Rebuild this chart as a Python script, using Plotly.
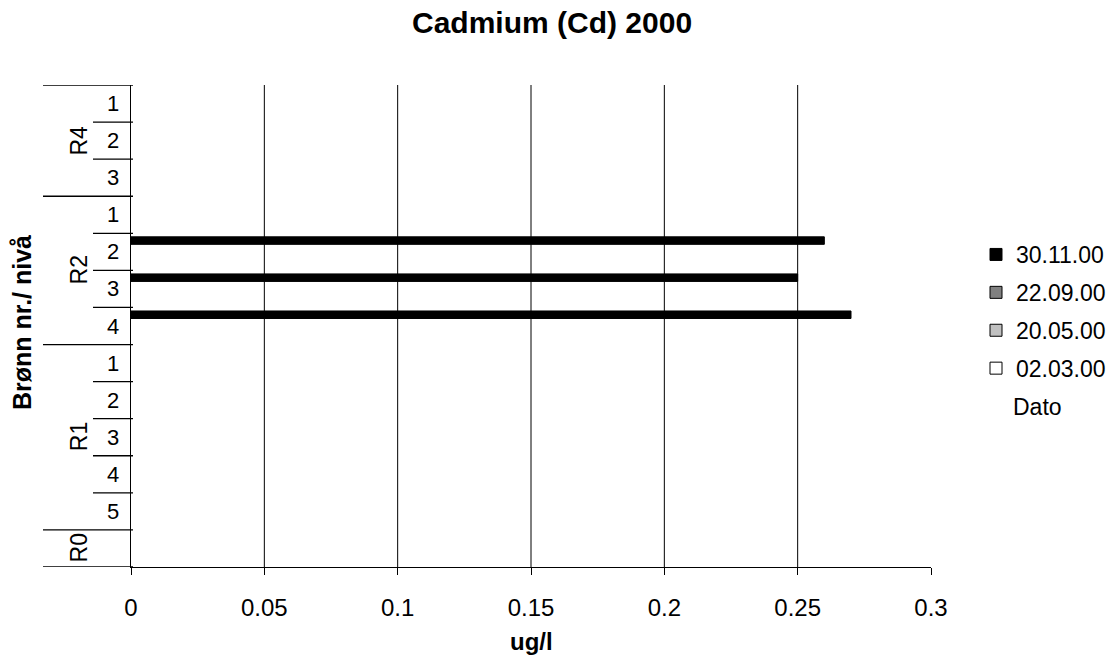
import plotly.graph_objects as go

# Well groups (top to bottom) and the levels within each group
groups = ["R4", "R4", "R4", "R2", "R2", "R2", "R2", "R1", "R1", "R1", "R1", "R1", "R0"]
levels = ["1", "2", "3", "1", "2", "3", "4", "1", "2", "3", "4", "5", ""]

# Sampling dates and measured cadmium values (ug/l) per category
dates = ["30.11.00", "22.09.00", "20.05.00", "02.03.00"]
colors = ["#000000", "#808080", "#c0c0c0", "#ffffff"]
cd_301100 = [None, None, None, None, 0.26, 0.25, 0.27, None, None, None, None, None, None]
cd_220900 = [None] * 13
cd_200500 = [None] * 13
cd_020300 = [None] * 13
series = [cd_301100, cd_220900, cd_200500, cd_020300]

x_ticks = [0, 0.05, 0.1, 0.15, 0.2, 0.25, 0.3]
x_tick_text = ["0", "0.05", "0.1", "0.15", "0.2", "0.25", "0.3"]

FONT = "Liberation Sans, Arial, sans-serif"
cats = [f"{g} {l}".strip() for g, l in zip(groups, levels)]

# plot area in pixels
L, R, T, B = 131, 931, 85, 567
PW, PH = R - L, B - T


def px_x(p):
    return (p - L) / PW


def px_y(p):
    return (B - p) / PH


fig = go.Figure()
for name, vals, col in zip(dates, series, colors):
    fig.add_trace(go.Bar(
        y=cats, x=vals, name=name, orientation="h",
        marker=dict(color=col, line=dict(color="#000000", width=1)),
        legendgroup=name,
    ))

shapes = []
# vertical gridlines at interior ticks
for v in x_ticks[1:-1]:
    shapes.append(dict(type="line", xref="x", yref="paper", x0=v, x1=v, y0=0, y1=1,
                       line=dict(color="#000000", width=1)))

# category dividers: long lines between groups, short lines between levels
n = len(cats)
for k in range(n + 1):
    yv = k - 0.5
    if k == 0 or k == n or groups[k] != groups[k - 1]:
        x0 = px_x(43)
    else:
        x0 = px_x(93)
    shapes.append(dict(type="line", xref="paper", yref="y", x0=x0, x1=px_x(133), y0=yv, y1=yv,
                       line=dict(color="#000000", width=1.3)))

annotations = []
# level labels
for c, l in zip(cats, levels):
    if l:
        annotations.append(dict(text=l, xref="paper", yref="y", x=px_x(105), y=c,
                                showarrow=False, font=dict(family=FONT, size=22, color="#000")))
# group labels, rotated, centred on their span
seen = []
for g in groups:
    if g not in seen:
        seen.append(g)
for g in seen:
    idx = [i for i, gg in enumerate(groups) if gg == g]
    mid = (idx[0] + idx[-1]) / 2
    annotations.append(dict(text=g, xref="paper", yref="y", x=px_x(64), y=mid,
                            textangle=-90, showarrow=False,
                            font=dict(family=FONT, size=23, color="#000")))

annotations += [
    dict(text="<b>Cadmium (Cd) 2000</b>", xref="paper", yref="paper", x=px_x(552),
         y=px_y(22), xanchor="center", yanchor="middle", showarrow=False,
         font=dict(family=FONT, size=30, color="#000")),
    dict(text="<b>ug/l</b>", xref="paper", yref="paper", x=px_x(531), y=px_y(641),
         xanchor="center", yanchor="middle", showarrow=False,
         font=dict(family=FONT, size=24, color="#000")),
    dict(text="<b>Brønn nr./ nivå</b>", xref="paper", yref="paper", x=px_x(22),
         y=px_y(322), xanchor="center", yanchor="middle", textangle=-90, showarrow=False,
         font=dict(family=FONT, size=25, color="#000")),
    dict(text="Dato", xref="paper", yref="paper", x=px_x(1011), y=px_y(407),
         xanchor="left", yanchor="middle", showarrow=False,
         font=dict(family=FONT, size=23, color="#000")),
]

fig.update_layout(
    width=1114, height=661,
    margin=dict(l=L, r=1114 - R, t=T, b=661 - B, autoexpand=False),
    paper_bgcolor="#ffffff", plot_bgcolor="#ffffff",
    barmode="group", bargap=0.19, bargroupgap=0,
    showlegend=True,
    legend=dict(x=px_x(976), y=px_y(233), xanchor="left", yanchor="top",
                font=dict(family=FONT, size=23, color="#000"), tracegroupgap=5,
                traceorder="grouped", itemwidth=30),
    xaxis=dict(range=[0, 0.3], tickvals=x_ticks, ticktext=x_tick_text, showgrid=False,
               zeroline=False, showline=True, linecolor="#000000", linewidth=1.3,
               ticks="outside", ticklen=7, tickcolor="#000000", tickwidth=1.3,
               ticklabelstandoff=12,
               tickfont=dict(family=FONT, size=24, color="#000")),
    yaxis=dict(categoryorder="array", categoryarray=cats, range=[n - 0.5, -0.5],
               showticklabels=False, showgrid=False, zeroline=False, showline=True,
               linecolor="#000000", linewidth=1.3, ticks=""),
    shapes=shapes, annotations=annotations,
    font=dict(family=FONT, color="#000"),
)

fig.write_html("out.html")
